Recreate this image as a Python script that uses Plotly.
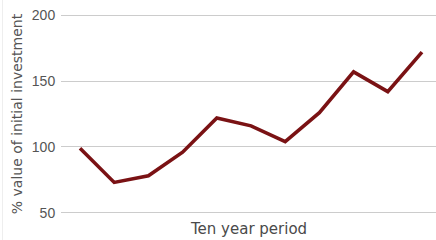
import plotly.graph_objects as go

periods = list(range(1, 12))
values = [99, 73, 78, 96, 122, 116, 104, 126, 157, 142, 172]
y_ticks = [50, 100, 150, 200]

fig = go.Figure()
fig.add_trace(go.Scatter(
    x=periods, y=values, mode="lines",
    line=dict(color="#7a1214", width=3.6),
    hoverinfo="skip",
))

plot_w = 375.0
fig.update_layout(
    width=436, height=240,
    margin=dict(l=61, r=0, t=14, b=26, autoexpand=False),
    paper_bgcolor="white", plot_bgcolor="white",
    showlegend=False,
    font=dict(family="DejaVu Sans, sans-serif", size=14, color="#555"),
    xaxis=dict(range=[0.444, 11.41], showgrid=False, zeroline=False,
               showticklabels=False, showline=False, ticks="", automargin=False),
    yaxis=dict(range=[49, 201], tickvals=y_ticks, showgrid=True,
               gridcolor="#cccccc", gridwidth=1, zeroline=False, automargin=False,
               showline=False, ticks="outside", ticklen=2, tickcolor="rgba(0,0,0,0)",
               tickfont=dict(family="Liberation Sans, Arial, sans-serif",
                             size=14, color="#555"),
               title=dict(text="% value of initial investment",
                          font=dict(family="DejaVu Sans, sans-serif", size=14, color="#555"),
                          standoff=5)),
    annotations=[dict(text="Ten year period", xref="paper", yref="paper",
                      x=0.5, y=0, yshift=-15, yanchor="middle", showarrow=False,
                      font=dict(family="DejaVu Sans, sans-serif", size=15, color="#4a4a4a"))],
    shapes=[dict(type="line", xref="paper", yref="paper",
                 x0=(2.5 - 61) / plot_w, x1=(2.5 - 61) / plot_w, y0=-0.13, y1=1.07,
                 line=dict(color="#eeeeee", width=1))],
)

fig.write_html("out.html", config={"displayModeBar": False},
               post_script="document.body.style.margin='0';document.body.style.padding='0';")
